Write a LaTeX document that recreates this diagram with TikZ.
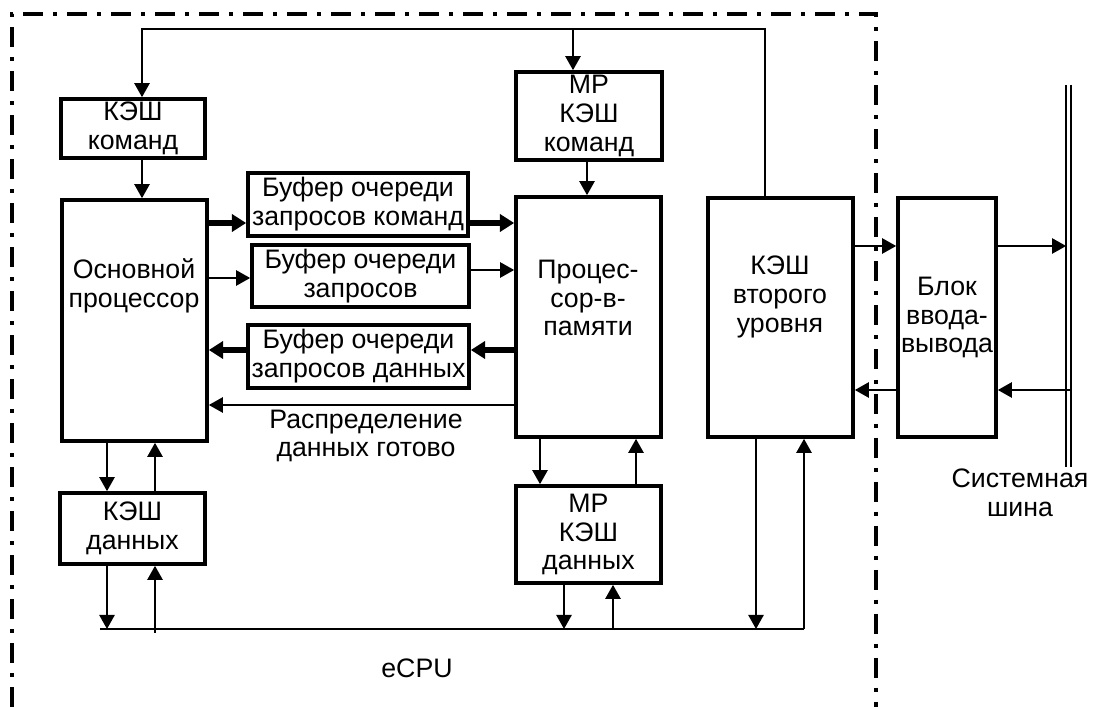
\documentclass[tikz,border=0pt]{standalone}
\usepackage{fontspec}
\setmainfont{Liberation Sans}
\usetikzlibrary{arrows.meta}

\tikzset{
  blok/.style={draw, line width=2.6pt, inner sep=0pt, align=center, font=\fontsize{19}{20.5}\selectfont},
  txt/.style={align=center, font=\fontsize{19}{20.5}\selectfont},
  arr/.style={line width=1.3pt, -{Triangle[length=0.35cm,width=0.38cm]}},
  fatarr/.style={line width=3.8pt, -{Triangle[length=0.36cm,width=0.43cm]}},
  ramka/.style={line width=3pt, dash pattern=on 0.5cm off 0.25cm on 0.1cm off 0.25cm},
}
% box from corner (x1,y1) to corner (x2,y2), in picture units
\def\blok(#1)(#2,#3)(#4,#5)#6{\node[blok, minimum width={(#4-#2)*0.025cm}, minimum height={(#5-#3)*0.025cm}] (#1) at ({(#2+#4)/2},{(#3+#5)/2}) {#6};}

\begin{document}
\begin{tikzpicture}[x=0.025cm, y=-0.025cm]
		\useasboundingbox (0,0) rectangle (1096,707);
		
		%%%%% eCPU frame %%%%%
		\draw[ramka] (12,707) -- (12,14) -- (876,14) -- (876,707);
		
		%%%%% blocks %%%%%
		\blok(kk)(61,99)(205,158){КЭШ\\команд}
		\blok(mpkk)(516,72)(662,160){МР\\КЭШ\\команд}
		\blok(osn)(62,200)(207,441){}
		\node[txt] (osn-t) at (134,286) {Основной\\процессор};
		\blok(bk)(248,173)(468,236){Буфер очереди\\запросов команд}
		\blok(bz)(252,245)(469,307){Буфер очереди\\запросов}
		\blok(bd)(248,325)(469,388){Буфер очереди\\запросов данных}
		\blok(pvp)(516,197)(661,437){}
		\node[txt] (pvp-t) at (588,298) {Процес-\\сор-в-\\памяти};
		\blok(k2)(708,198)(853,437){}
		\node[txt] (k2-t) at (780,297) {КЭШ\\второго\\уровня};
		\blok(bvv)(898,198)(996,437){Блок\\ввода-\\вывода}
		\blok(kd)(60,493)(205,564){КЭШ\\данных}
		\blok(mpkd)(516,486)(661,583){МР\\КЭШ\\данных}
		
		%%%%% reference points %%%%%
		\coordinate (topL) at (142,29);
		\coordinate (topM) at (573,29);
		\coordinate (topR) at (765,29);
		\coordinate (mv) at (587,0);
		\coordinate (pv) at (540,0);
		\coordinate (pu) at (636,0);
		\coordinate (busL) at (100,629);
		\coordinate (kdv) at (107,629);
		\coordinate (kdu) at (155,629);
		\coordinate (mpv) at (564,629);
		\coordinate (mpu) at (613,629);
		\coordinate (k2v) at (756,629);
		\coordinate (k2u) at (804,629);
		\coordinate (rk) at (0,223);
		\coordinate (rzl) at (0,278);
		\coordinate (rzr) at (0,270);
		\coordinate (rd) at (0,350);
		\coordinate (rr) at (0,405);
		\coordinate (rv) at (0,246);
		\coordinate (rw) at (0,390);
		\coordinate (shT) at (1068.5,85);
		\coordinate (shB) at (1068.5,467);
		
		%%%%% upper links %%%%%
		\draw[arr] (k2.north -| topR) -- (topR) -- (topL) -- (kk.north -| topL);
		\draw[arr] (topM) -- (mpkk.north -| topM);
		\draw[arr] (kk.south -| topL) -- (osn.north -| topL);
		\draw[arr] (mpkk.south -| mv) -- (pvp.north -| mv);
		
		%%%%% buffers %%%%%
		\draw[fatarr] (osn.east |- rk) -- (bk.west |- rk);
		\draw[fatarr] (bk.east |- rk) -- (pvp.west |- rk);
		\draw[arr] (osn.east |- rzl) -- (bz.west |- rzl);
		\draw[arr] (bz.east |- rzr) -- (pvp.west |- rzr);
		\draw[fatarr] (pvp.west |- rd) -- (bd.east |- rd);
		\draw[fatarr] (bd.west |- rd) -- (osn.east |- rd);
		\draw[arr] (pvp.west |- rr) -- (osn.east |- rr);
		\node[txt] (raspr) at (366,436) {Распределение\\данных готово};
		
		%%%%% lower links and bus %%%%%
		\draw[arr] (osn.south -| kdv) -- (kd.north -| kdv);
		\draw[arr] (kd.north -| kdu) -- (osn.south -| kdu);
		\draw[arr] (kd.south -| kdv) -- (kdv);
		\draw[arr] ([yshift=-0.1cm]kdu) -- (kd.south -| kdu);
		\draw[arr] (pvp.south -| pv) -- (mpkd.north -| pv);
		\draw[arr] (mpkd.north -| pu) -- (pvp.south -| pu);
		\draw[arr] (mpkd.south -| mpv) -- (mpv);
		\draw[arr] (mpu) -- (mpkd.south -| mpu);
		\draw[arr] (k2.south -| k2v) -- (k2v);
		\draw[arr] (k2u) -- (k2.south -| k2u);
		\draw[line width=1.3pt] (busL) -- (k2u);
		\node[txt] (ecpu) at (417,668) {eCPU};
		
		%%%%% I/O and system bus %%%%%
		\draw[arr] (k2.east |- rv) -- (bvv.west |- rv);
		\draw[arr] (bvv.west |- rw) -- (k2.east |- rw);
		\draw[line width=1.4pt, double, double distance=0.07cm] (shT) -- (shB);
		\draw[arr] (bvv.east |- rv) -- ([xshift=-0.06cm]shT |- rv);
		\draw[arr] ([xshift=0.06cm]shT |- rw) -- (bvv.east |- rw);
		\node[txt] (shina) at (1020,493) {Системная\\шина};
		
	\end{tikzpicture}
\end{document}
